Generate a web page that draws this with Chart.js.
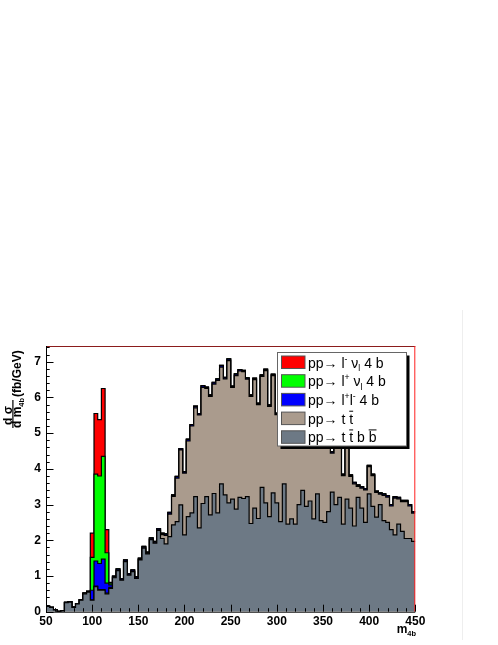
<!DOCTYPE html>
<html>
<head>
<meta charset="utf-8">
<script src="https://cdn.jsdelivr.net/npm/chart.js@4.4.1/dist/chart.umd.min.js"></script>
<style>
  html, body { margin: 0; padding: 0; background: #fff; }
  canvas { display: block; }
</style>
</head>
<body>
<canvas id="m4b" width="498" height="645"></canvas>
<script>
// histogram binning (GeV)
const xMin = 50, xMax = 450, binWidth = 4;
const xTicks = [50, 100, 150, 200, 250, 300, 350, 400, 450];
const yTicks = [0, 1, 2, 3, 4, 5, 6, 7];

// d sigma / d m4b per bin (fb/GeV)
const ttbb = [
  0.15, 0.12, 0.05, 0.00, 0.03, 0.25, 0.27, 0.12, 0.22, 0.32,
  0.50, 0.55, 0.32, 0.70, 0.60, 0.60, 0.50, 0.65, 0.95, 1.15,
  0.88, 1.40, 1.02, 1.12, 0.93, 1.45, 1.78, 1.62, 2.02, 1.92,
  2.28, 2.05, 1.90, 2.10, 2.43, 2.52, 2.99, 2.15, 2.66, 2.77,
  3.22, 2.35, 3.03, 3.22, 2.71, 3.31, 2.77, 3.58, 3.27, 3.05,
  3.15, 2.87, 3.20, 3.17, 3.22, 2.47, 2.90, 2.61, 3.48, 3.05,
  2.66, 3.33, 3.05, 2.52, 3.58, 2.45, 2.60, 2.45, 3.00, 3.40,
  2.95, 3.10, 2.60, 3.30, 2.55, 2.50, 2.80, 3.35, 3.00, 3.20,
  2.45, 3.15, 2.90, 2.40, 3.20, 2.90, 2.50, 3.30, 2.95, 2.65,
  3.00, 2.55, 2.50, 2.30, 2.15, 2.45, 2.25, 2.05, 2.05, 1.97
];
const tt = [
  0.00, 0.00, 0.00, 0.01, 0.00, 0.01, 0.01, 0.01, 0.01, 0.02,
  0.02, 0.01, 0.01, 0.02, 0.02, 0.02, 0.02, 0.03, 0.01, 0.01,
  0.01, 0.01, 0.01, 0.01, 0.01, 0.01, 0.01, 0.01, 0.01, 0.01,
  0.01, 0.11, 0.24, 0.63, 0.80, 1.22, 1.54, 1.73, 2.12, 2.43,
  2.49, 3.16, 3.25, 3.03, 3.32, 3.06, 3.71, 3.27, 3.25, 3.98,
  3.13, 3.74, 3.54, 3.55, 3.29, 3.56, 3.60, 3.19, 3.11, 3.70,
  3.09, 3.28, 2.47, 3.74, 2.48, 3.91, 3.26, 3.51, 2.76, 2.76,
  2.71, 2.46, 3.26, 2.06, 2.91, 2.66, 2.46, 1.09, 1.96, 1.56,
  1.36, 1.51, 0.89, 1.18, 0.31, 0.56, 0.91, 0.76, 0.86, 0.69,
  0.29, 0.71, 0.71, 0.66, 1.03, 0.71, 0.83, 1.03, 0.91, 0.79
];
const llbb = [
  0.00, 0.00, 0.00, 0.00, 0.00, 0.00, 0.00, 0.00, 0.00, 0.00,
  0.00, 0.00, 0.27, 0.70, 0.73, 0.85, 0.28, 0.07, 0.03, 0.03,
  0.03, 0.03, 0.03, 0.03, 0.03, 0.03, 0.03, 0.03, 0.03, 0.03,
  0.03, 0.03, 0.03, 0.04, 0.03, 0.04, 0.03, 0.03, 0.04, 0.03,
  0.04, 0.03, 0.04, 0.03, 0.03, 0.04, 0.03, 0.04, 0.03, 0.04,
  0.03, 0.04, 0.03, 0.03, 0.03, 0.03, 0.03, 0.03, 0.03, 0.03,
  0.03, 0.03, 0.03, 0.03, 0.03, 0.03, 0.03, 0.03, 0.03, 0.03,
  0.03, 0.03, 0.03, 0.03, 0.03, 0.03, 0.03, 0.03, 0.03, 0.03,
  0.03, 0.03, 0.03, 0.03, 0.03, 0.03, 0.03, 0.03, 0.03, 0.03,
  0.03, 0.03, 0.03, 0.03, 0.03, 0.03, 0.03, 0.03, 0.03, 0.03
];
const lpnu = [
  0.00, 0.00, 0.00, 0.00, 0.00, 0.00, 0.00, 0.00, 0.00, 0.00,
  0.00, 0.02, 0.92, 2.43, 2.45, 2.88, 0.85, 0.05, 0.01, 0.01,
  0.01, 0.01, 0.01, 0.01, 0.01, 0.01, 0.01, 0.01, 0.01, 0.01,
  0.01, 0.01, 0.01, 0.01, 0.01, 0.01, 0.01, 0.01, 0.01, 0.01,
  0.01, 0.01, 0.01, 0.01, 0.01, 0.01, 0.01, 0.01, 0.01, 0.01,
  0.01, 0.01, 0.01, 0.01, 0.01, 0.01, 0.01, 0.01, 0.01, 0.01,
  0.01, 0.01, 0.01, 0.01, 0.01, 0.01, 0.01, 0.01, 0.01, 0.01,
  0.01, 0.01, 0.01, 0.01, 0.01, 0.01, 0.01, 0.01, 0.01, 0.01,
  0.01, 0.01, 0.01, 0.01, 0.01, 0.01, 0.01, 0.01, 0.01, 0.01,
  0.01, 0.01, 0.01, 0.01, 0.01, 0.01, 0.01, 0.01, 0.01, 0.01
];
const lmnu = [
  0.00, 0.00, 0.00, 0.00, 0.00, 0.00, 0.00, 0.00, 0.00, 0.00,
  0.00, 0.00, 0.68, 1.70, 1.58, 1.90, 0.65, 0.02, 0.00, 0.00,
  0.00, 0.00, 0.00, 0.00, 0.00, 0.00, 0.00, 0.00, 0.00, 0.00,
  0.00, 0.00, 0.00, 0.00, 0.00, 0.00, 0.00, 0.00, 0.00, 0.00,
  0.00, 0.00, 0.00, 0.00, 0.00, 0.00, 0.00, 0.00, 0.00, 0.00,
  0.00, 0.00, 0.00, 0.00, 0.00, 0.00, 0.00, 0.00, 0.00, 0.00,
  0.00, 0.00, 0.00, 0.00, 0.00, 0.00, 0.00, 0.00, 0.00, 0.00,
  0.00, 0.00, 0.00, 0.00, 0.00, 0.00, 0.00, 0.00, 0.00, 0.00,
  0.00, 0.00, 0.00, 0.00, 0.00, 0.00, 0.00, 0.00, 0.00, 0.00,
  0.00, 0.00, 0.00, 0.00, 0.00, 0.00, 0.00, 0.00, 0.00, 0.00
];

const FONT = '"Liberation Sans", Arial, sans-serif';

// bin edges; last edge repeats the last bin so the step closes at 450
const edges = [];
for (let i = 0; i <= ttbb.length; i++) edges.push(xMin + i * binWidth);
const steps = vals => edges.map((e, i) => ({ x: e, y: vals[Math.min(i, vals.length - 1)] }));

// draws "pp→ l^{-} ν_{l}" style strings (ROOT-ish latex)
function richText(ctx, str, x, y, size, weight) {
  const parts = str.split(/(\^\{[^}]*\}|_\{[^}]*\}|#bar\{[^}]*\})/).filter(s => s.length);
  let cx = x;
  for (const p of parts) {
    let txt = p, fs = size, dy = 0, bar = false;
    if (p.startsWith('^{')) { txt = p.slice(2, -1); fs = size * 0.62; dy = -size * 0.42; }
    else if (p.startsWith('_{')) { txt = p.slice(2, -1); fs = size * 0.62; dy = size * 0.24; }
    else if (p.startsWith('#bar{')) { txt = p.slice(5, -1); bar = true; }
    ctx.font = weight + ' ' + fs + 'px ' + FONT;
    ctx.fillText(txt, cx, y + dy);
    const w = ctx.measureText(txt).width;
    if (bar) ctx.fillRect(cx, y - size * 0.92, w, 1);
    cx += w;
  }
  return cx - x;
}
function textWidth(ctx, str, size, weight) {
  ctx.save();
  ctx.globalAlpha = 0;
  const w = richText(ctx, str, 0, 0, size, weight);
  ctx.restore();
  return w;
}

const histFrame = {
  id: 'histFrame',
  beforeDraw(chart) {
    const ctx = chart.ctx;
    ctx.save();
    ctx.fillStyle = '#eeeeee';
    ctx.fillRect(462, 310, 1, 330);
    ctx.restore();
  },
  afterDraw(chart) {
    const { ctx, chartArea: a, scales: { x, y } } = chart;
    ctx.save();

    // frame
    ctx.lineWidth = 1;
    ctx.strokeStyle = '#8b1c1c';
    ctx.beginPath(); ctx.moveTo(a.left, a.top + 0.5); ctx.lineTo(a.right, a.top + 0.5); ctx.stroke();
    ctx.strokeStyle = '#ff2020';
    ctx.beginPath(); ctx.moveTo(a.right - 0.5, a.top); ctx.lineTo(a.right - 0.5, a.bottom); ctx.stroke();
    ctx.strokeStyle = '#000';
    ctx.beginPath();
    ctx.moveTo(a.left + 0.5, a.top); ctx.lineTo(a.left + 0.5, a.bottom + 0.5);
    ctx.lineTo(a.right, a.bottom + 0.5);
    ctx.stroke();

    // inward ticks, ROOT style
    ctx.beginPath();
    for (let v = xMin; v <= xMax + 0.001; v += 10) {
      const px = Math.round(x.getPixelForValue(v)) + 0.5;
      const len = (v % 50 === 0) ? 7 : 3.5;
      ctx.moveTo(px, a.bottom); ctx.lineTo(px, a.bottom - len);
    }
    for (let i = 0; i * 0.2 <= y.max; i++) {
      const py = Math.round(y.getPixelForValue(i * 0.2)) + 0.5;
      const len = (i % 5 === 0) ? 7.5 : 3.7;
      ctx.moveTo(a.left, py); ctx.lineTo(a.left + len, py);
    }
    ctx.stroke();

    // y title: d sigma / d m4b (fb/GeV)
    ctx.fillStyle = '#000';
    ctx.textAlign = 'left';
    ctx.textBaseline = 'alphabetic';
    const rot = (px, py, fn) => { ctx.save(); ctx.translate(px, py); ctx.rotate(-Math.PI / 2); fn(); ctx.restore(); };
    rot(11.5, 425, () => richText(ctx, 'd σ', 0, 0, 12, 'bold'));
    ctx.fillRect(12.3, 400, 1.2, 28);
    rot(21, 428, () => richText(ctx, 'd m_{4b}', 0, 0, 12, 'bold'));
    rot(21, 397, () => richText(ctx, '(fb/GeV)', 0, 0, 12, 'bold'));

    // x title
    const wx = textWidth(ctx, 'm_{4b}', 12, 'bold');
    richText(ctx, 'm_{4b}', 416 - wx, 633, 12, 'bold');

    // legend with shadow
    const lx = 277.5, ly = 352.5, lw = 129, lh = 93.5;
    ctx.fillStyle = '#000';
    ctx.fillRect(lx + 3, ly + 3, lw, lh);
    ctx.fillStyle = '#fff';
    ctx.fillRect(lx, ly, lw, lh);
    ctx.strokeStyle = '#666';
    ctx.lineWidth = 1;
    ctx.strokeRect(lx, ly, lw, lh);
    const items = chart.data.datasets.slice().reverse();
    items.forEach((ds, i) => {
      const ry = 356 + i * 18.7;
      ctx.fillStyle = ds.backgroundColor;
      ctx.fillRect(281.5, ry, 23.5, 12.5);
      ctx.strokeStyle = '#555';
      ctx.strokeRect(281.5, ry, 23.5, 12.5);
      ctx.fillStyle = '#000';
      richText(ctx, ds.label, 308, ry + 11.5, 14, 'normal');
    });
    ctx.restore();
  }
};

const series = [
  { label: 'pp→ t #bar{t} b #bar{b}', data: ttbb, color: '#6d7985' },
  { label: 'pp→ t #bar{t}', data: tt, color: '#aa9b8d' },
  { label: 'pp→ l^{+}l^{-} 4 b', data: llbb, color: '#0000ff' },
  { label: 'pp→ l^{+} ν_{l} 4 b', data: lpnu, color: '#00ff00' },
  { label: 'pp→ l^{-} ν_{l} 4 b', data: lmnu, color: '#ff0000' }
];

new Chart(document.getElementById('m4b'), {
  type: 'line',
  data: {
    datasets: series.map((s, i) => ({
      label: s.label,
      data: steps(s.data),
      backgroundColor: s.color,
      borderColor: '#000',
      borderWidth: 1.2,
      fill: i === 0 ? 'origin' : '-1',
      stepped: 'before',
      pointRadius: 0,
      tension: 0
    }))
  },
  options: {
    responsive: false,
    animation: false,
    layout: { padding: { left: 0, right: 82.7, top: 346, bottom: 0 } },
    plugins: {
      legend: { display: false },
      tooltip: { enabled: false }
    },
    scales: {
      x: {
        type: 'linear',
        min: xMin,
        max: xMax,
        afterFit: s => { s.height = 33.3; },
        afterBuildTicks: s => { s.ticks = xTicks.map(v => ({ value: v })); },
        ticks: {
          color: '#000',
          font: { family: FONT, size: 12, weight: 'bold' },
          padding: 3,
          maxRotation: 0,
          autoSkip: false
        },
        grid: { display: false, drawTicks: false },
        border: { display: false }
      },
      y: {
        stacked: true,
        min: 0,
        max: 7.44,
        afterFit: s => { s.width = 46; },
        afterBuildTicks: s => { s.ticks = yTicks.map(v => ({ value: v })); },
        ticks: {
          color: '#000',
          font: { family: FONT, size: 12, weight: 'bold' },
          padding: 5
        },
        grid: { display: false, drawTicks: false },
        border: { display: false }
      }
    }
  },
  plugins: [histFrame]
});
</script>
</body>
</html>
